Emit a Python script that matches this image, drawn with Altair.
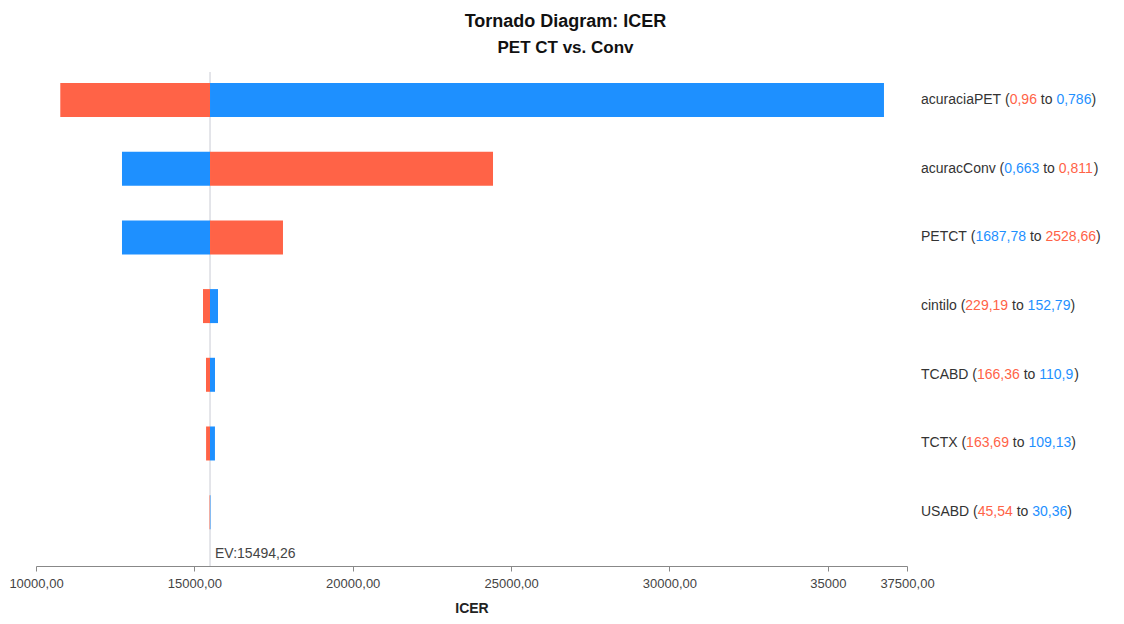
import altair as alt
import pandas as pd

# ---- data ----
names = ["acuraciaPET", "acuracConv", "PETCT", "cintilo", "TCABD", "TCTX", "USABD"]
low_text = ["0,96", "0,663", "1687,78", "229,19", "166,36", "163,69", "45,54"]
high_text = ["0,786", "0,811", "2528,66", "152,79", "110,9", "109,13", "30,36"]
left_end = [10767, 12715, 12715, 15273, 15368, 15370, 15480]
right_end = [36773, 24429, 17798, 15747, 15652, 15650, 15509]
left_is_red = [True, False, False, True, True, True, True]
ev_value = 15494.26
ev_label = "EV:15494,26"
tick_values = [10000, 15000, 20000, 25000, 30000, 35000, 37500]

RED = "#FF6347"
BLUE = "#1E90FF"
GRAY = "#333333"
FONT = "Liberation Sans"
FS = 14

# Arial / Liberation Sans advance widths (per 1000 em)
W = {"a": 556, "c": 500, "u": 556, "r": 333, "i": 222, "P": 667, "E": 667, "T": 611,
     "C": 722, "o": 556, "n": 556, "v": 500, "l": 222, "t": 278, "A": 667, "B": 667,
     "D": 722, "X": 667, "U": 722, "S": 667, " ": 278, "(": 333, ")": 333, ",": 278}
for d in "0123456789":
    W[d] = 556


def text_width(s, size=FS):
    return sum(W.get(ch, 556) for ch in s) * size / 1000.0


SPACE = text_width(" ")

# bars table
bar_rows = []
for n, le, re_, lr in zip(names, left_end, right_end, left_is_red):
    bar_rows.append({"name": n, "start": ev_value, "end": le, "color": RED if lr else BLUE})
    bar_rows.append({"name": n, "start": ev_value, "end": re_, "color": BLUE if lr else RED})
bar_df = pd.DataFrame(bar_rows)

# right-hand labels, split into coloured pieces (gaps stand for spaces)
LABEL_X = 885
txt_rows = []
for n, lo, hi, lr in zip(names, low_text, high_text, left_is_red):
    lo_c = RED if lr else BLUE
    hi_c = BLUE if lr else RED
    pieces = [(n, GRAY, SPACE), ("(", GRAY, 0), (lo, lo_c, SPACE), ("to", GRAY, SPACE),
              (hi, hi_c, 0), (")", GRAY, 0)]
    x = LABEL_X
    for s, c, gap in pieces:
        txt_rows.append({"name": n, "px": x, "txt": s, "color": c})
        x += text_width(s) + gap
txt_df = pd.DataFrame(txt_rows)

ev_df = pd.DataFrame({"ev": [ev_value], "label": [ev_label]})

x_scale = alt.Scale(domain=[10000, 37500], nice=False, zero=False)
y_enc = alt.Y("name:N", sort=names, axis=None,
              scale=alt.Scale(paddingInner=0.505, paddingOuter=0.348, align=0.23))

x_axis = alt.Axis(
    title="ICER", values=tick_values,
    labelExpr="datum.value == 35000 ? '35000' : replace(format(datum.value, '.2f'), '.', ',')",
    labelFont=FONT, labelFontSize=13, labelColor="#444444", labelFlush=False,
    labelOverlap=False, labelPadding=6,
    titleFont=FONT, titleFontSize=FS, titleFontWeight="bold", titleColor="#222222",
    titlePadding=11, domainColor="#888888", tickColor="#888888", tickSize=5,
    grid=False,
)

rule = alt.Chart(ev_df).mark_rule(color="#c9ccd4", strokeWidth=1).encode(
    x=alt.X("ev:Q", scale=x_scale, axis=x_axis)
)

bars = alt.Chart(bar_df).mark_bar().encode(
    x=alt.X("start:Q", scale=x_scale, axis=None),
    x2="end:Q",
    y=y_enc,
    color=alt.Color("color:N", scale=None),
)

ev_text = alt.Chart(ev_df).mark_text(
    align="left", baseline="middle", dx=5, font=FONT, fontSize=FS, color="#444444"
).encode(
    x=alt.X("ev:Q", scale=x_scale, axis=None),
    y=alt.value(482),
    text="label:N",
)

labels = alt.Chart(txt_df).mark_text(
    align="left", baseline="middle", font=FONT, fontSize=FS
).encode(
    x=alt.X("px:Q", scale=None, axis=None),
    y=y_enc,
    text="txt:N",
    color=alt.Color("color:N", scale=None),
)

chart = alt.layer(rule, bars, ev_text, labels).resolve_scale(
    x="independent"
).properties(
    width=871,
    height=494,
    autosize=alt.AutoSizeParams(type="none"),
    padding={"left": 28, "top": 64, "right": 200, "bottom": 50},
    title=alt.TitleParams(
        text="Tornado Diagram: ICER", subtitle="PET CT vs. Conv",
        font=FONT, fontSize=18, fontWeight="bold", color="#111111",
        subtitleFont=FONT, subtitleFontSize=17, subtitleFontWeight="bold",
        subtitleColor="#111111", subtitlePadding=9,
        anchor="middle", dx=94, offset=16,
    ),
).configure_view(stroke=None)

chart.save("out.html", embed_options={"renderer": "svg", "actions": False})
